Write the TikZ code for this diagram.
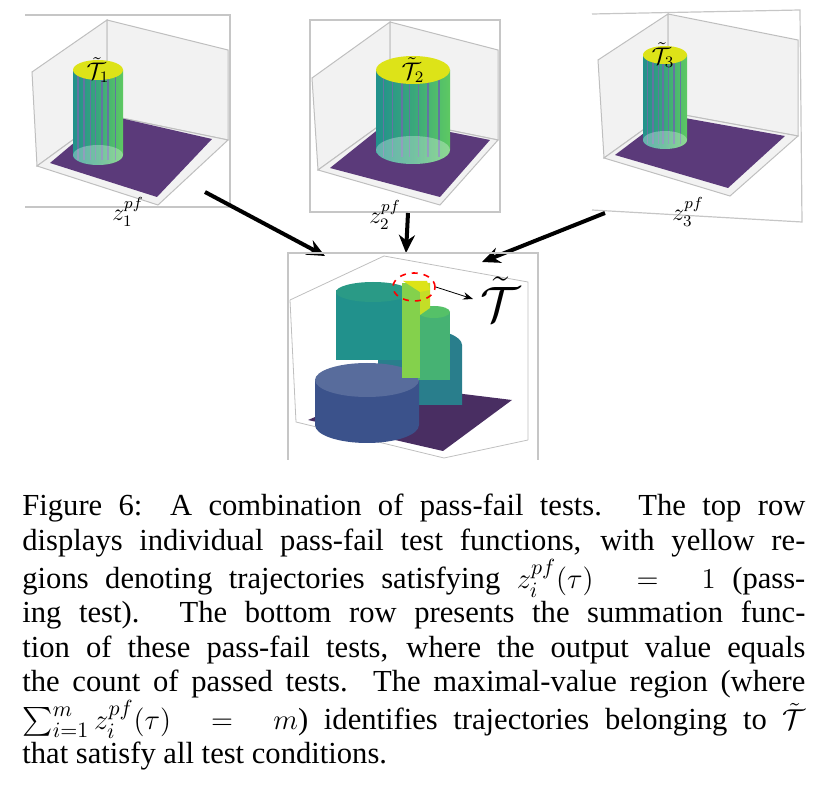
\documentclass[tikz,border=0pt]{standalone}
\usepackage{fontspec}
\setmainfont{Liberation Serif}
\usepackage{amsmath}
\usetikzlibrary{arrows.meta, positioning, shapes.geometric}
\definecolor{vpurple}{HTML}{5B3A7A}
\definecolor{vblue}{HTML}{3B528B}
\definecolor{vteal}{HTML}{21918C}
\definecolor{vgreen}{HTML}{5EC962}
\definecolor{vyellow}{HTML}{DDE318}
\tikzset{
    frame/.style={draw=gray!45, line width=0.6pt},
    wall/.style={fill=gray!10, draw=gray!50, line width=0.5pt},
    floor/.style={fill=vpurple},
    bigarrow/.style={-{Stealth[length=9pt, width=8pt]}, line width=2pt},
    label/.style={font=\large}
}
% cylinder: centre x, x radius, y radius, top y, bottom y
\newcommand{\pfcyl}[5]{
    \shade[left color=vteal, right color=vgreen, middle color=vteal!60!vgreen]
        (#1-#2,#4) -- (#1-#2,#5) arc[start angle=180, end angle=0, x radius=#2, y radius=#3] -- (#1+#2,#4) -- cycle;
    \foreach \s in {-0.8,-0.55,-0.3,-0.1,0.15,0.4,0.7}
        \draw[vblue!80, line width=0.8pt] (#1+\s*#2,#4) -- (#1+\s*#2,#5+0.5*#3);
    \fill[white, opacity=0.3] (#1,#5) ellipse[x radius=#2, y radius=#3];
    \fill[vyellow] (#1,#4) ellipse[x radius=#2, y radius=#3];
}
\begin{document}
\begin{tikzpicture}[x=0.5pt, y=-0.5pt]
    \useasboundingbox (0,0) rectangle (827,797);

    % Panel 1
    \draw[frame] (25,15) -- (230,15) -- (230,207) -- (25,207);
    \filldraw[wall] (32,72) -- (107,20) -- (107,115) -- (37,166) -- cycle;
    \filldraw[wall] (107,20) -- (228,50) -- (228,140) -- (107,115) -- cycle;
    \filldraw[wall] (37,166) -- (158,205) -- (228,140) -- (107,115) -- cycle;
    \fill[floor] (50,163) -- (157,197) -- (212,139) -- (107,115) -- cycle;
    \pfcyl{98}{25}{10}{70}{155}
    \node[label] (t1) at (98,70) {$\tilde{\mathcal{T}}_1$};
    \node[label] (z1) at (128,212) {$z_1^{pf}$};

    % Panel 2
    \draw[frame] (310,20) rectangle (500,212);
    \filldraw[wall] (312,78) -- (390,22) -- (390,118) -- (318,170) -- cycle;
    \filldraw[wall] (390,22) -- (498,50) -- (498,140) -- (390,118) -- cycle;
    \filldraw[wall] (318,170) -- (440,205) -- (498,140) -- (390,118) -- cycle;
    \fill[floor] (330,168) -- (440,197) -- (490,140) -- (390,120) -- cycle;
    \pfcyl{413}{37}{14}{70}{150}
    \node[label] (t2) at (413,70) {$\tilde{\mathcal{T}}_2$};
    \node[label] (z2) at (385,215) {$z_2^{pf}$};

    % Panel 3
    \draw[frame] (592,14) -- (800,10) -- (802,222) -- (592,210);
    \filldraw[wall] (598,60) -- (668,14) -- (668,112) -- (604,158) -- cycle;
    \filldraw[wall] (668,14) -- (798,40) -- (798,136) -- (668,112) -- cycle;
    \filldraw[wall] (604,158) -- (730,196) -- (798,136) -- (668,112) -- cycle;
    \fill[floor] (615,155) -- (728,188) -- (785,136) -- (668,115) -- cycle;
    \pfcyl{665}{22}{9}{55}{140}
    \node[label] (t3) at (663,55) {$\tilde{\mathcal{T}}_3$};
    \node[label] (z3) at (688,212) {$z_3^{pf}$};

    % Arrows into the sum panel
    \coordinate (a1) at (205,192);
    \coordinate (a2) at (408,213);
    \coordinate (a3) at (605,213);
    \coordinate (b1) at (325,256);
    \coordinate (b2) at (406,253);
    \coordinate (b3) at (482,262);
    \draw[bigarrow] (a1) -- (b1);
    \draw[bigarrow] (a2) -- (b2);
    \draw[bigarrow] (a3) -- (b3);

    % Sum panel
    \draw[frame] (288,460) -- (288,253) -- (538,253) -- (538,460);
    \draw[gray!50] (290,300) -- (384,256) -- (528,282) -- (528,440);
    \draw[gray!50] (290,300) -- (296,422) -- (444,458) -- (528,440);
    \fill[floor, fill=vpurple!80!black] (308,420) -- (443,451) -- (512,400) -- (390,385) -- cycle;
    % tiers
    \fill[vteal!70!vblue] (420,345) ellipse[x radius=42, y radius=16];
    \fill[vteal!70!vblue] (378,342) -- (378,405) -- (462,405) -- (462,345) -- cycle;
    \fill[vblue] (315,380) -- (315,425) arc[start angle=180, end angle=0, x radius=52, y radius=18] -- (419,380) -- cycle;
    \fill[vblue!85!white] (367,380) ellipse[x radius=52, y radius=17];
    \fill[vteal] (336,290) -- (336,360) -- (410,360) -- (410,292) -- cycle;
    \fill[vteal!85!vgreen] (373,292) ellipse[x radius=37, y radius=10];
    \fill[vteal!40!vgreen] (418,312) -- (418,380) -- (450,380) -- (450,312) -- cycle;
    \fill[vgreen!85!vteal] (434,312) ellipse[x radius=16, y radius=6];
    \fill[vgreen!70!vyellow] (402,283) -- (402,378) -- (420,378) -- (420,283) -- cycle;
    \fill[vyellow!80!vgreen] (420,283) -- (420,315) -- (430,308) -- (430,283) -- cycle;
    \fill[vyellow] (403,281) -- (427,281) -- (430,290) -- (420,292) -- cycle;
    \node[draw=red, dashed, thick, ellipse, inner sep=0pt, minimum width=21pt, minimum height=14pt] (sel) at (414,287) {};
    \node[font=\Huge] (tt) at (500,299) {$\tilde{\mathcal{T}}$};
    \draw[-{Stealth[length=5pt]}, thin] (sel.east) -- (tt.west);

    % Caption
    \node[anchor=north west, text width=391.5pt, align=justify, inner sep=0pt,
          font=\fontsize{15.3}{17.2}\selectfont] (cap) at (22,494) {%
        Figure 6: A combination of pass-fail tests. The top row\linebreak
        displays individual pass-fail test functions, with yellow re-\linebreak
        gions denoting trajectories satisfying $z_i^{pf}(\tau)\ =\ 1$ (pass-\linebreak
        ing test). The bottom row presents the summation func-\linebreak
        tion of these pass-fail tests, where the output value equals\linebreak
        the count of passed tests. The maximal-value region (where\linebreak
        $\sum_{i=1}^m z_i^{pf}(\tau)\ =\ m$) identifies trajectories belonging to $\tilde{\mathcal{T}}$\linebreak
        that satisfy all test conditions.};
\end{tikzpicture}
\end{document}
